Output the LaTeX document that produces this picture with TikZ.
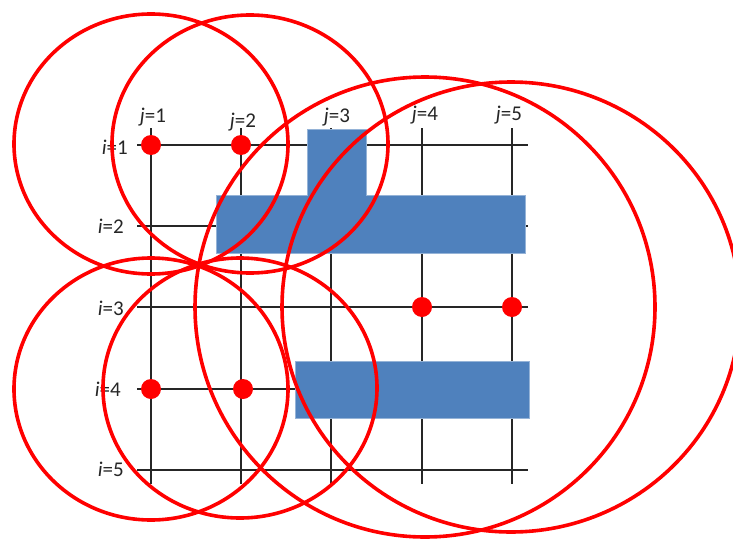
\documentclass[tikz,border=0pt]{standalone}
\usepackage{fontspec}
\setmainfont{Carlito}
\begin{document}
\begin{tikzpicture}[x=1pt,y=-1pt,
  gridline/.style={draw=black!85, line width=1.3pt},
  blockfill/.style={fill=blockblue, draw=blockblue!60!white, line width=0.6pt},
  reddot/.style={circle, fill=red, minimum size=20pt, inner sep=0pt},
  ring/.style={draw=red, line width=3.6pt},
  lab/.style={font=\fontsize{21}{21}\selectfont, text=black!85, inner sep=0pt}]
\definecolor{blockblue}{HTML}{4F81BD}
\useasboundingbox (0,0) rectangle (733,538);
% grid coordinates
\foreach \j/\x in {1/151,2/241,3/331,4/422,5/512}{
  \coordinate (top\j) at (\x,128);
  \coordinate (bot\j) at (\x,484);
}
\foreach \i/\y in {1/145,2/226,3/307,4/389,5/470}{
  \coordinate (left\i) at (137,\y);
  \coordinate (right\i) at (528,\y);
}
\foreach \j in {1,...,5}{ \draw[gridline] (top\j) -- (bot\j); }
\foreach \i in {1,...,5}{ \draw[gridline] (left\i) -- (right\i); }
% labels
\node[lab] (j1) at (153,117) {\textit{j}=1};
\node[lab] (j2) at (243,122) {\textit{j}=2};
\node[lab] (j3) at (337,117) {\textit{j}=3};
\node[lab] (j4) at (425,115) {\textit{j}=4};
\node[lab] (j5) at (509,115) {\textit{j}=5};
\node[lab, anchor=east] (i1) at (128,147) {\textit{i}=1};
\node[lab, anchor=east] (i2) at (124,226) {\textit{i}=2};
\node[lab, anchor=east] (i3) at (124,308) {\textit{i}=3};
\node[lab, anchor=east] (i4) at (121,389) {\textit{i}=4};
\node[lab, anchor=east] (i5) at (124,469) {\textit{i}=5};
% blue blocks
\path[blockfill] (216,195) -- (307,195) -- (307,129) -- (366,129) -- (366,195)
  -- (525,195) -- (525,253) -- (216,253) -- cycle;
\path[blockfill] (295,361) rectangle (529,418);
% red dots
\node[reddot] (d11) at (151,145) {};
\node[reddot] (d12) at (241,145) {};
\node[reddot] (d34) at (422,307) {};
\node[reddot] (d35) at (512,307) {};
\node[reddot] (d41) at (151,389) {};
\node[reddot] (d42) at (243,389) {};
% circles
\coordinate (cA) at (151,144);
\coordinate (cB) at (250,144);
\coordinate (cC) at (151,389);
\coordinate (cD) at (240,388);
\coordinate (cE) at (425,307);
\coordinate (cF) at (511,307);
\draw[ring] (cA) ellipse [x radius=137pt, y radius=130pt];
\draw[ring] (cB) ellipse [x radius=138pt, y radius=129pt];
\draw[ring] (cC) ellipse [x radius=137pt, y radius=131pt];
\draw[ring] (cD) ellipse [x radius=137pt, y radius=130pt];
\draw[ring] (cE) ellipse [x radius=230pt, y radius=230pt];
\draw[ring] (cF) ellipse [x radius=229pt, y radius=225pt];
\end{tikzpicture}
\end{document}
